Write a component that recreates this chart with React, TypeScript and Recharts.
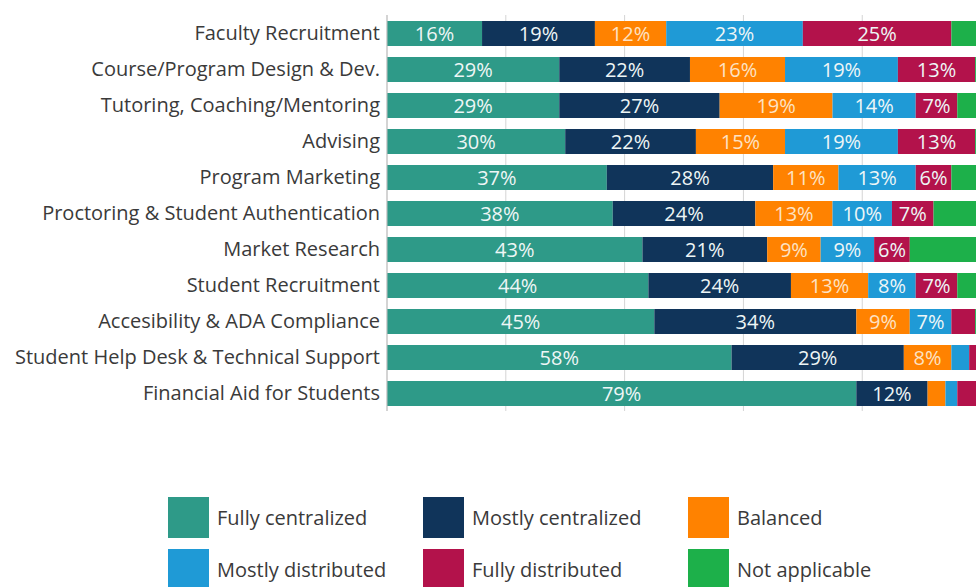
import React from 'react';
import { BarChart, Bar, XAxis, YAxis, CartesianGrid, LabelList } from 'recharts';

const categories = [
  'Faculty Recruitment',
  'Course/Program Design & Dev.',
  'Tutoring, Coaching/Mentoring',
  'Advising',
  'Program Marketing',
  'Proctoring & Student Authentication',
  'Market Research',
  'Student Recruitment',
  'Accesibility & ADA Compliance',
  'Student Help Desk & Technical Support',
  'Financial Aid for Students',
];

const fullyCentralized = [16, 29, 29, 30, 37, 38, 43, 44, 45, 58, 79];
const mostlyCentralized = [19, 22, 27, 22, 28, 24, 21, 24, 34, 29, 12];
const balanced = [12, 16, 19, 15, 11, 13, 9, 13, 9, 8, 3];
const mostlyDistributed = [23, 19, 14, 19, 13, 10, 9, 8, 7, 3, 2];
const fullyDistributed = [25, 13, 7, 13, 6, 7, 6, 7, 4, 3, 4];
const notApplicable = [5, 1, 4, 1, 5, 8, 12, 4, 1, 0, 0];

const xTicks = [0, 20, 40, 60, 80, 100];

const seriesNames = [
  'Fully centralized',
  'Mostly centralized',
  'Balanced',
  'Mostly distributed',
  'Fully distributed',
  'Not applicable',
];
const seriesKeys = ['fc', 'mc', 'ba', 'md', 'fd', 'na'];
const seriesColors = ['#2E9A88', '#10345A', '#FF8200', '#1F9AD6', '#B3124B', '#1DB04A'];

const data = categories.map((name, i) => ({
  name,
  fc: fullyCentralized[i],
  mc: mostlyCentralized[i],
  ba: balanced[i],
  md: mostlyDistributed[i],
  fd: fullyDistributed[i],
  na: notApplicable[i],
}));

const FONT = '"Open Sans", sans-serif';

const fmt = (v: any) => (typeof v === 'number' && v >= 6 ? `${v}%` : '');

export default function App() {
  return (
    <div style={{ position: 'fixed', left: 0, top: 0, width: 976, height: 587, overflow: 'hidden', background: '#fff' }}>
      <BarChart
        width={1000}
        height={587}
        data={data}
        layout="vertical"
        margin={{ top: 15, right: 13, left: 0, bottom: 176 }}
        barSize={25}
      >
        <CartesianGrid horizontal={false} vertical={true} stroke="#d4d4d4" />
        <XAxis type="number" domain={[0, 100]} ticks={xTicks} hide />
        <YAxis
          type="category"
          dataKey="name"
          width={387}
          axisLine={{ stroke: '#bfbfbf' }}
          tickLine={false}
          tickSize={0}
          tickMargin={7}
          tick={{ fill: '#3a3a3a', fontSize: 20, fontFamily: FONT }}
          interval={0}
        />
        {seriesKeys.map((k, i) => (
          <Bar key={k} dataKey={k} name={seriesNames[i]} stackId="a" fill={seriesColors[i]} isAnimationActive={false}>
            {k !== 'na' && (
              <LabelList
                dataKey={k}
                position="center"
                formatter={fmt}
                fill={k === 'ba' ? '#fde2c4' : '#eef6f6'}
                style={{ fontSize: 20, fontFamily: FONT }}
              />
            )}
          </Bar>
        ))}
      </BarChart>
      {seriesNames.map((n, i) => {
        const col = i % 3;
        const row = Math.floor(i / 3);
        const lefts = [168, 423, 688];
        const tops = [497, 549];
        return (
          <div
            key={n}
            style={{ position: 'absolute', left: lefts[col], top: tops[row], display: 'flex', alignItems: 'center', height: 41 }}
          >
            <div style={{ width: 41, height: 41, background: seriesColors[i] }} />
            <span style={{ marginLeft: 8, fontFamily: FONT, fontSize: 20, color: '#3a3a3a' }}>{n}</span>
          </div>
        );
      })}
    </div>
  );
}
